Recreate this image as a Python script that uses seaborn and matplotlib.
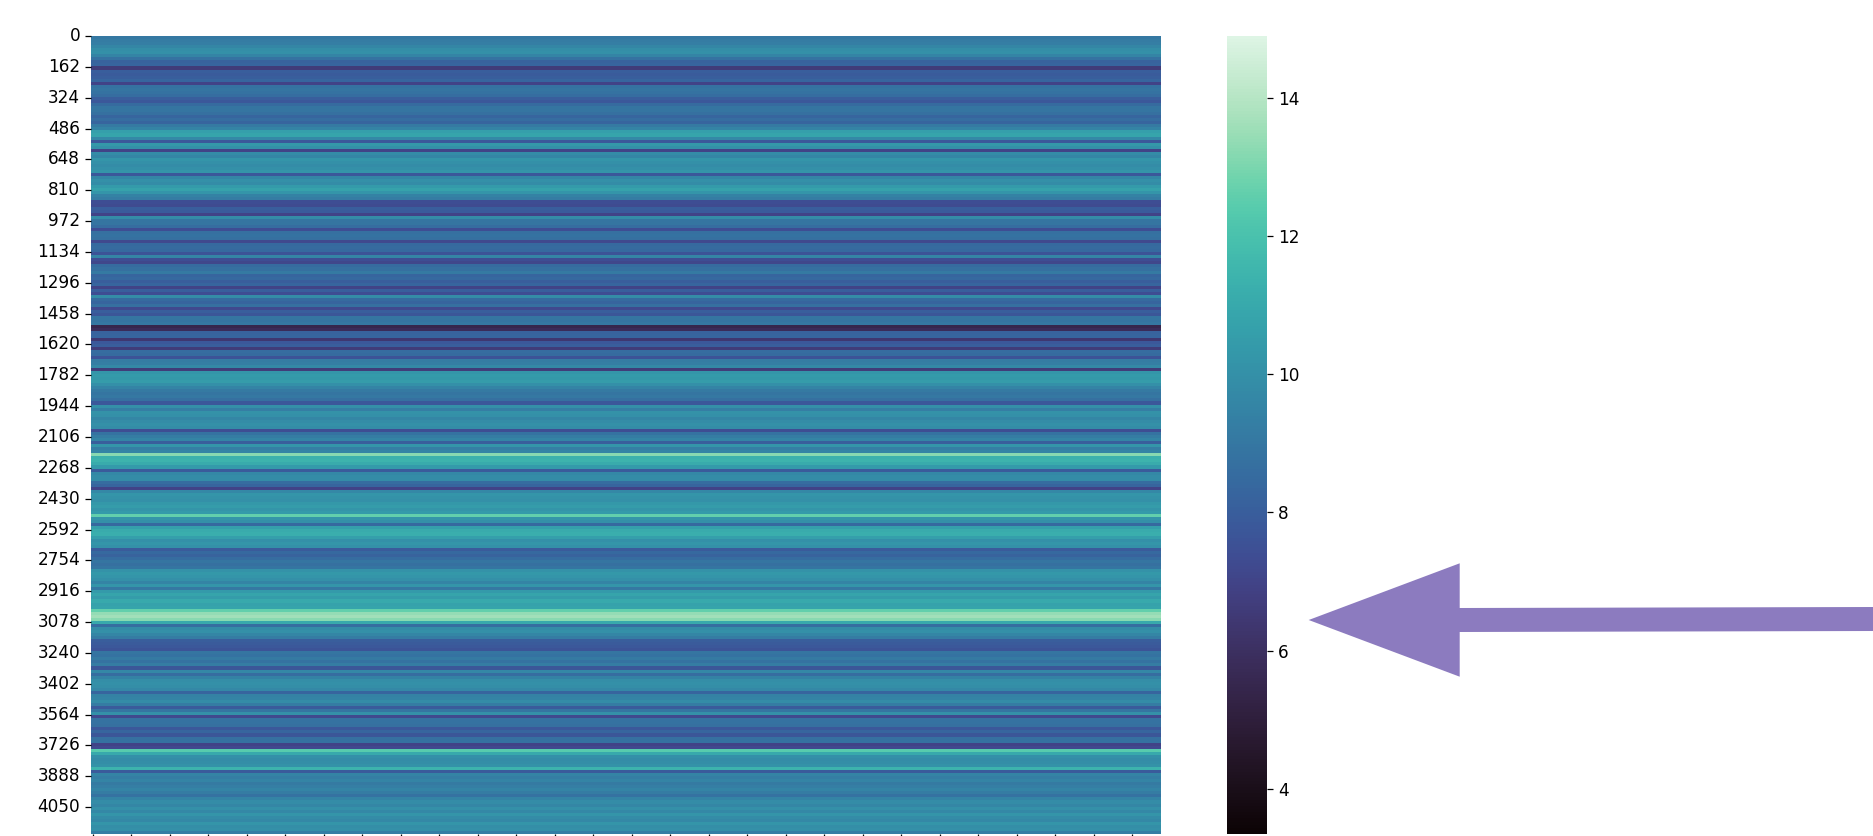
import matplotlib
matplotlib.use("Agg")
import matplotlib.pyplot as plt
import matplotlib.patches as mpatches
import numpy as np
import pandas as pd
import seaborn as sns

# mean level of each 16-row band from top to bottom
levels_a = [9.0, 9.2, 9.3, 9.6, 9.9, 10.0, 9.5, 8.8, 8.2, 8.3, 6.6, 8.0, 7.9, 8.0, 8.3, 7.0, 8.8, 8.9, 8.8, 8.6, 8.0, 7.8,
            8.5, 8.9, 8.9, 8.7, 8.3, 8.6, 8.3, 9.1, 9.5, 10.6, 10.8, 9.7, 7.8, 10.3, 10.0, 7.0, 9.8, 9.6, 10.2, 10.0, 9.8, 10.0]
levels_b = [10.2, 7.8, 9.6, 10.0, 9.8, 10.4, 10.7, 10.2, 9.4, 9.2, 7.4, 7.3, 8.0, 7.9, 7.0, 9.8, 8.9, 8.9, 8.6, 7.4, 8.7, 8.8,
            8.7, 7.2, 8.4, 8.5, 8.4, 7.6, 9.5, 7.4, 7.1, 8.5, 8.7, 9.1, 8.3, 8.4, 8.0, 8.3, 7.0, 8.0, 7.4, 9.8, 8.5, 8.3]
levels_c = [8.7, 7.2, 8.0, 7.7, 8.9, 8.9, 9.0, 5.5, 5.8, 8.2, 8.3, 6.4, 7.8, 8.0, 6.6, 8.6, 8.5, 7.6, 9.2, 9.3, 9.7, 6.6,
            10.2, 10.4, 10.3, 10.5, 10.0, 9.5, 9.1, 8.9, 9.0, 8.7, 7.8, 10.0, 9.3, 10.1, 10.0, 9.6, 9.8, 10.0, 9.8, 7.4, 8.8, 9.2]
levels_d = [9.5, 8.0, 10.2, 9.3, 9.5, 13.2, 11.3, 11.4, 11.1, 10.4, 7.9, 9.7, 9.8, 9.8, 8.6, 8.3, 7.0, 9.7, 10.2, 10.1, 10.0, 10.3,
            10.5, 10.2, 10.4, 12.6, 10.2, 10.0, 8.4, 10.6, 11.1, 11.2, 10.6, 10.0, 10.2, 10.0, 7.9, 8.4, 8.2, 8.6, 8.9, 8.7, 8.9]
levels_e = [10.1, 10.3, 10.2, 10.0, 9.5, 10.2, 9.0, 10.4, 10.8, 10.5, 11.0, 10.7, 10.8, 12.6, 13.4, 13.6, 13.2, 11.0, 8.6, 9.8, 10.0, 9.6,
            9.2, 8.0, 7.9, 7.8, 7.6, 8.9, 8.8, 9.1, 8.8, 9.2, 7.7, 9.7, 8.6, 9.4, 9.9, 10.0, 9.9, 9.7, 8.3, 9.4, 9.5, 9.8]
levels_f = [9.2, 7.9, 8.9, 10.0, 7.2, 8.8, 8.8, 8.7, 7.8, 8.3, 7.7, 8.7, 8.8, 7.0, 7.2, 12.4, 11.0, 10.0, 9.8, 9.9, 10.1, 11.4,
            7.9, 9.5, 9.3, 9.5, 9.1, 9.3, 9.5, 9.2, 8.8, 9.5, 9.8, 9.6, 10.0, 9.7, 10.2, 9.8, 9.7, 10.2, 9.9, 10.0, 9.3]
rows_per_band = 16
n_columns = 278
vmin = 3.35
vmax = 14.89

levels = levels_a + levels_b + levels_c + levels_d + levels_e + levels_f
rows = np.repeat(levels, rows_per_band)
df = pd.DataFrame(np.tile(rows[:, None], (1, n_columns)))

W, H = 1874, 836
fig = plt.figure(figsize=(W / 100, H / 100), dpi=100)
ax = fig.add_axes([91 / W, 2 / H, 1070 / W, 798 / H])
cax = fig.add_axes([1227 / W, 2 / H, 40.5 / W, 798 / H])

sns.heatmap(df, cmap="mako", vmin=vmin, vmax=vmax, ax=ax, cbar_ax=cax,
            xticklabels=10, yticklabels=162)
ax.tick_params(axis="y", labelsize=12.2, length=4.3, width=0.9, rotation=0)
ax.tick_params(axis="x", labelbottom=False, length=4.3, width=0.9)
cax.tick_params(labelsize=12.2, length=4.3, width=0.9)

# purple arrow pointing at the colour bar
arrow = [(1308.7, 620), (1459.7, 563.3), (1459.7, 608), (1874, 607), (1874, 631),
         (1459.7, 632), (1459.7, 676.7)]
fig.add_artist(mpatches.Polygon([(x / W, 1 - y / H) for x, y in arrow], closed=True,
                                facecolor="#8c7bbf", edgecolor="none",
                                transform=fig.transFigure))

fig.savefig("out.png", dpi=100)
